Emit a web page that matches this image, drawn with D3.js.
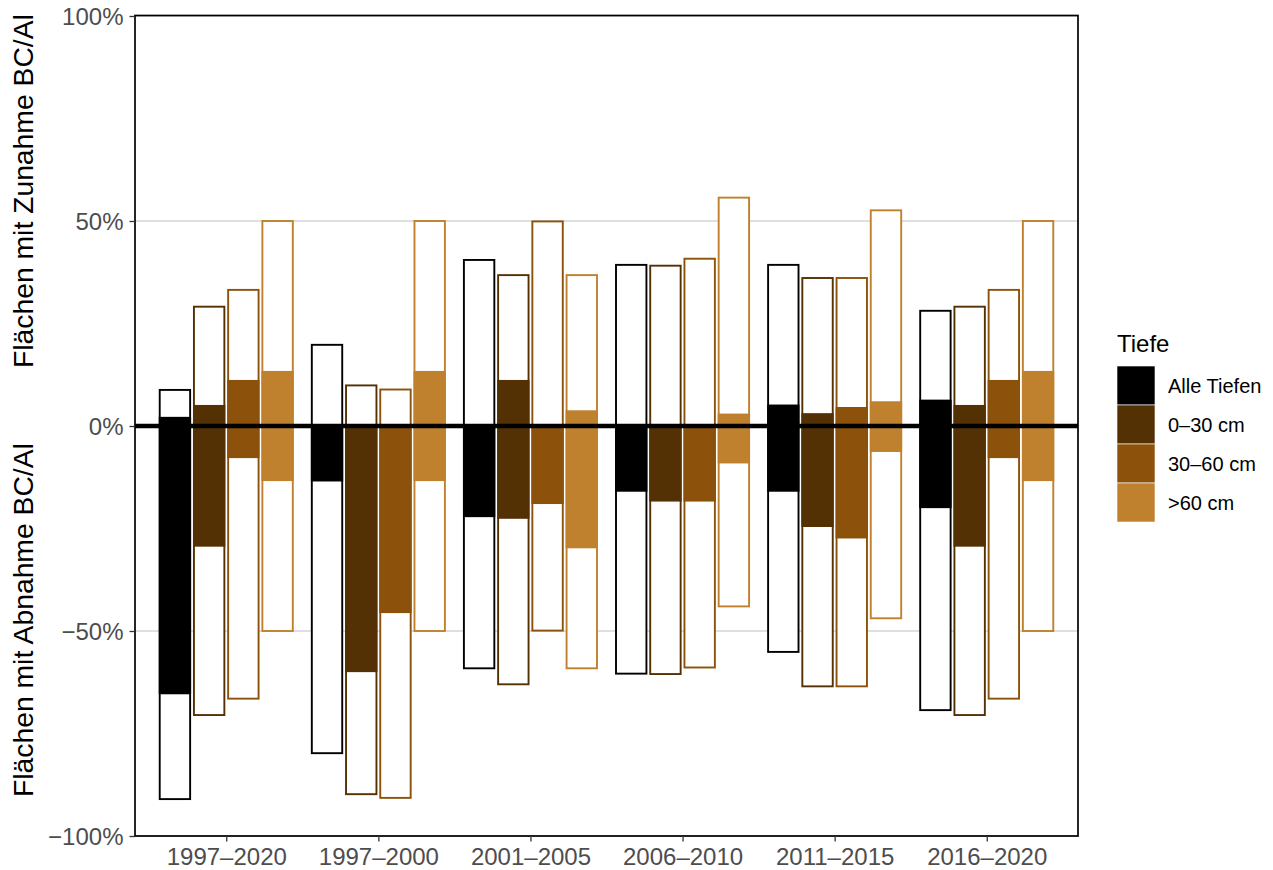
<!DOCTYPE html>
<html>
<head>
<meta charset="utf-8">
<script src="https://cdn.jsdelivr.net/npm/d3@7"></script>
<style>
  html, body { margin: 0; padding: 0; background: #ffffff; }
  svg { display: block; font-family: "Liberation Sans", Arial, Helvetica, sans-serif; }
</style>
</head>
<body>
<svg id="chart" width="1273" height="870"></svg>
<script>
// ---------- data ----------
const periods = ["1997–2020", "1997–2000", "2001–2005", "2006–2010", "2011–2015", "2016–2020"];
const depths = ["Alle Tiefen", "0–30 cm", "30–60 cm", ">60 cm"];
const depthColors = ["#000000", "#543005", "#8C510A", "#BF812D"];
const yTicks = [-100, -50, 0, 50, 100];
const yTickLabels = ["−100%", "−50%", "0%", "50%", "100%"];

// share of area with increase (all), per depth, per period
const incAlle  = [8.8, 19.8, 40.5, 39.3, 39.3, 28.1];
const inc0_30  = [29.1, 9.9, 36.8, 39.1, 36.1, 29.1];
const inc30_60 = [33.2, 8.9, 49.9, 40.8, 36.1, 33.2];
const incGt60  = [50, 50, 36.8, 55.7, 52.6, 50];
// share of area with decrease (all)
const decAlle  = [91, 79.8, 59.1, 60.4, 55.1, 69.3];
const dec0_30  = [70.5, 89.8, 63, 60.5, 63.5, 70.5];
const dec30_60 = [66.5, 90.7, 49.9, 58.9, 63.5, 66.5];
const decGt60  = [50, 50, 59.1, 44, 46.9, 50];
// share of area with significant increase
const sigIncAlle  = [2, 0, 0, 0, 5, 6.2];
const sigInc0_30  = [4.9, 0, 11, 0, 2.9, 4.9];
const sigInc30_60 = [11, 0, 0, 0, 4.4, 11];
const sigIncGt60  = [13.2, 13.2, 3.6, 2.8, 5.8, 13.2];
// share of area with significant decrease
const sigDecAlle  = [65.2, 13.3, 22, 15.8, 15.8, 19.8];
const sigDec0_30  = [29.2, 59.8, 22.4, 18.2, 24.4, 29.2];
const sigDec30_60 = [7.6, 45.4, 18.8, 18.2, 27.2, 7.6];
const sigDecGt60  = [13.2, 13.2, 29.6, 8.9, 6.1, 13.2];

const incAll = [incAlle, inc0_30, inc30_60, incGt60];
const decAll = [decAlle, dec0_30, dec30_60, decGt60];
const sigIncAll = [sigIncAlle, sigInc0_30, sigInc30_60, sigIncGt60];
const sigDecAll = [sigDecAlle, sigDec0_30, sigDec30_60, sigDecGt60];

const rows = [];
periods.forEach((p, i) => {
  depths.forEach((d, j) => {
    rows.push({
      period: p, depth: d, color: depthColors[j],
      inc: incAll[j][i], dec: decAll[j][i],
      sinc: sigIncAll[j][i], sdec: sigDecAll[j][i]
    });
  });
});

// ---------- layout ----------
const svg = d3.select("#chart");
const L = 135, R = 1078, T = 16, B = 836;

const x = d3.scalePoint().domain(periods).range([L, R]).padding(0.6);
const step = x.step();
const xs = d3.scaleBand().domain(depths).range([-0.45 * step, 0.45 * step]).padding(0);
const barW = 0.8 / 4 * step;

const y = d3.scaleLinear().domain([-100, 100]).range([B, T]);
const color = d3.scaleOrdinal().domain(depths).range(depthColors);

// gridlines
svg.append("g").selectAll("line").data(yTicks).join("line")
  .attr("x1", L).attr("x2", R)
  .attr("y1", d => y(d)).attr("y2", d => y(d))
  .attr("stroke", "#bfbfbf").attr("stroke-width", 1);

const barX = d => x(d.period) + xs(d.depth) + (xs.bandwidth() - barW) / 2;

// outline bars: total increase to total decrease
svg.append("g").selectAll("rect").data(rows).join("rect")
  .attr("x", barX)
  .attr("width", barW)
  .attr("y", d => y(d.inc))
  .attr("height", d => y(-d.dec) - y(d.inc))
  .attr("fill", "#ffffff")
  .attr("stroke", d => color(d.depth))
  .attr("stroke-width", 1.9);

// filled bars: significant increase to significant decrease
svg.append("g").selectAll("rect").data(rows).join("rect")
  .attr("x", barX)
  .attr("width", barW)
  .attr("y", d => y(d.sinc))
  .attr("height", d => y(-d.sdec) - y(d.sinc))
  .attr("fill", d => color(d.depth))
  .attr("stroke", d => color(d.depth))
  .attr("stroke-width", 1.9);

// zero line
svg.append("line")
  .attr("x1", L).attr("x2", R)
  .attr("y1", y(0)).attr("y2", y(0))
  .attr("stroke", "#000").attr("stroke-width", 4.4);

// panel border
svg.append("rect")
  .attr("x", L).attr("y", y(100) - 0.5)
  .attr("width", R - L).attr("height", y(-100) - y(100) + 0.5)
  .attr("fill", "none").attr("stroke", "#000").attr("stroke-width", 1.7);

// y axis
const yAxis = d3.axisLeft(y).tickValues(yTicks)
  .tickFormat((d, i) => yTickLabels[i]).tickSize(5.5).tickPadding(6);
const gy = svg.append("g").attr("transform", `translate(${L},0)`).call(yAxis);
gy.select(".domain").remove();
gy.selectAll(".tick line").attr("stroke", "#333").attr("stroke-width", 1.3);
gy.selectAll(".tick text").attr("fill", "#4d4d4d")
  .style("font-size", "24px").attr("dy", "0.36em")
  .style("font-family", "'Liberation Sans', Arial, sans-serif");

// x axis
const xAxis = d3.axisBottom(x).tickSize(5.5).tickPadding(6);
const gx = svg.append("g").attr("transform", `translate(0,${B})`).call(xAxis);
gx.select(".domain").remove();
gx.selectAll(".tick line").attr("stroke", "#333").attr("stroke-width", 1.3);
gx.selectAll(".tick text").attr("fill", "#4d4d4d")
  .style("font-size", "24px").attr("dy", "0.71em")
  .style("font-family", "'Liberation Sans', Arial, sans-serif");

// y axis titles
svg.append("text")
  .attr("transform", "translate(33,368) rotate(-90)")
  .attr("text-anchor", "start")
  .style("font-size", "28.3px").attr("fill", "#000")
  .text("Flächen mit Zunahme BC/Al");
svg.append("text")
  .attr("transform", "translate(33,797) rotate(-90)")
  .attr("text-anchor", "start")
  .style("font-size", "28.3px").attr("fill", "#000")
  .text("Flächen mit Abnahme BC/Al");

// legend
const lg = svg.append("g");
lg.append("text").attr("x", 1117).attr("y", 352)
  .style("font-size", "24px").attr("fill", "#000").text("Tiefe");
const keyH = 39, keyW = 38, keyY0 = 366;
lg.selectAll("rect.key").data(depths).join("rect")
  .attr("class", "key")
  .attr("x", 1117).attr("y", (d, i) => keyY0 + i * keyH)
  .attr("width", keyW).attr("height", keyH)
  .attr("fill", d => color(d))
  .attr("stroke", "#ffffff").attr("stroke-width", 0.6);
lg.selectAll("text.lab").data(depths).join("text")
  .attr("class", "lab")
  .attr("x", 1168).attr("y", (d, i) => keyY0 + i * keyH + keyH / 2 + 7.3)
  .style("font-size", "20px").attr("fill", "#000")
  .text(d => d);
</script>
</body>
</html>
